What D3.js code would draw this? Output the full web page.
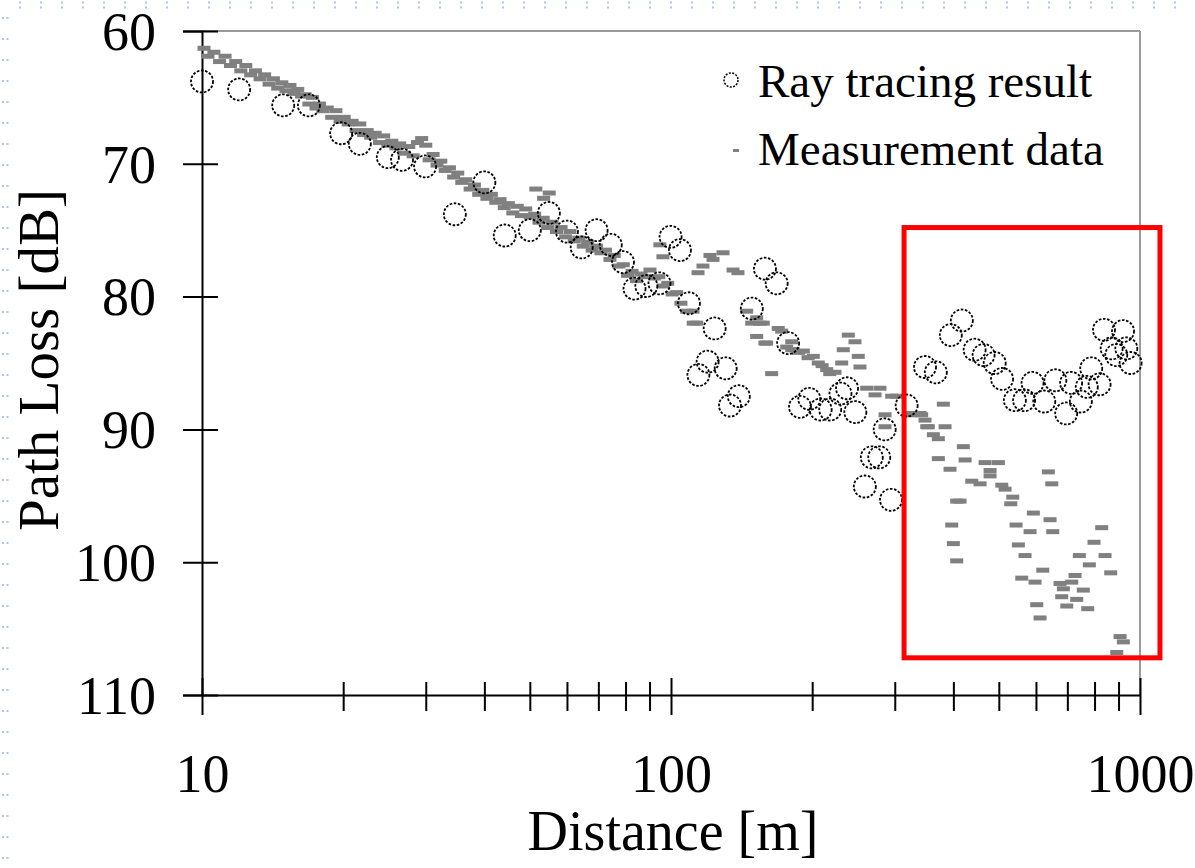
<!DOCTYPE html>
<html>
<head>
<meta charset="utf-8">
<script src="https://cdn.jsdelivr.net/npm/d3@7"></script>
<style>
  body { margin: 0; background: #fff; }
  text { font-family: "Liberation Serif", "Times New Roman", serif; fill: #000; }
</style>
</head>
<body>
<svg id="chart" width="1195" height="868"></svg>
<script>

// DATA

// Ray tracing result: [distance m, path loss dB]
var rayTracing = [
  [10.0,63.8],[12.0,64.4],[14.9,65.6],[16.9,65.6],[19.8,67.7],[21.7,68.5],[24.9,69.5],[26.7,69.7],[29.9,70.2],
  [34.6,73.8],[40.0,71.4],[44.2,75.4],[50.0,75.0],[54.9,73.7],[60.0,75.1],[64.5,76.3],[69.4,75.0],[74.4,76.1],
  [79.0,77.4],[83.6,79.4],[88.6,79.2],[94.5,79.0],[99.8,75.5],[104.5,76.5],[109.2,80.5],[114.4,85.9],[119.7,84.9],
  [123.9,82.4],[130.8,85.4],[133.6,88.2],[139.5,87.5],[148.7,80.9],[158.6,77.9],[168.0,79.0],[177.7,83.5],
  [188.4,88.3],[197.2,87.7],[208.5,88.5],[218.5,88.5],[229.8,87.3],[237.3,86.9],[247.2,88.7],[259.0,94.3],
  [268.0,92.1],[278.0,92.1],[285.5,90.0],[294.5,95.3],[318.0,88.2],[348.0,85.3],[367.0,85.7],[395.0,82.9],
  [417.0,81.8],[444.0,84.0],[464.0,84.4],[490.0,85.0],[508.0,86.2],[541.0,87.8],[566.0,87.8],[590.0,86.5],
  [625.0,87.9],[660.0,86.3],[696.0,88.8],[713.0,86.5],[748.0,87.9],[770.0,86.8],[787.0,85.4],[820.0,86.6],
  [838.0,82.5],[870.0,83.9],[890.0,84.4],[920.0,82.6],[935.0,83.9],[955.0,85.0]
];

// Measurement data: [distance m, path loss dB]
var measurement = [
  [10.1,61.3],[10.3,61.9],[10.6,61.6],[10.9,62.3],[11.2,61.9],[11.5,62.6],[11.8,62.3],[12.1,63.0],[12.4,62.6],[12.7,63.3],
  [13.0,63.0],[13.3,63.6],[13.6,63.3],[13.9,64.0],[14.2,63.6],[14.5,64.3],[14.8,63.9],[15.1,64.5],[15.4,64.1],[15.7,64.7],
  [16.0,64.4],[16.3,64.9],[16.6,64.8],[16.9,65.5],[17.2,65.0],[17.5,65.8],[17.8,65.5],[18.1,66.0],[18.5,65.8],[18.9,66.5],
  [19.3,66.0],[19.7,66.8],[20.1,66.5],[20.5,67.0],[20.9,66.8],[21.3,67.5],[21.7,67.0],[22.1,67.8],[22.5,67.5],[22.9,68.0],
  [23.4,67.7],[23.9,68.4],[24.4,67.9],[24.9,68.6],[25.4,68.3],[25.9,68.8],[26.4,68.5],[27.0,69.2],[27.6,68.7],[28.2,69.4],
  [28.8,68.4],[29.4,68.1],[30.0,68.6],[30.5,69.7],[31.1,69.3],[31.7,70.1],[32.3,69.8],[33.0,70.5],[33.7,70.3],[34.4,71.0],
  [35.1,70.7],[35.8,71.4],[36.5,71.2],[37.3,71.9],[38.1,71.6],[38.9,72.3],[39.7,72.0],[40.5,72.6],[41.4,72.3],[42.3,72.9],
  [43.2,72.7],[44.1,73.3],[45.0,73.0],[46.0,73.7],[47.0,73.2],[48.0,73.9],[49.0,73.4],[50.1,74.0],[51.2,73.8],[52.3,74.4],
  [53.4,74.1],[54.6,74.8],[55.8,74.4],[57.0,75.1],[58.3,74.8],[59.6,75.5],[60.9,75.1],[62.2,75.8],[63.6,75.6],[65.0,76.2],
  [66.4,75.9],[67.9,76.5],[69.4,76.2],[70.9,76.7],[72.5,76.5],[74.1,77.2],[75.7,76.9],[77.4,77.7],[79.1,77.6],[80.8,78.4],
  [82.6,78.1],[84.4,78.8],[86.3,78.3],[88.2,78.5],[90.2,78.0],[92.2,78.6],[94.2,78.5],[96.3,79.2],[98.4,79.0],[100.6,79.8],
  [102.8,79.7],[105.0,80.5],
  [51.5,71.9],[55.0,72.2],[53.5,72.6],
  [94.7,76.1],[96.1,77.0],[114.2,78.2],[117.0,77.7],[121.1,76.9],[122.9,77.2],[129.1,76.7],[135.6,78.0],[138.9,78.2],
  [108.0,81.1],[111.4,81.1],[111.5,82.0],[113.5,82.0],
  [145.0,81.1],[148.6,82.0],[152.3,81.6],[154.8,82.0],[152.3,83.0],[157.3,82.0],[158.6,83.5],[159.9,83.5],[163.9,85.8],
  [169.3,82.4],[172.2,82.6],[176.5,83.8],[180.9,83.4],[180.9,84.0],[182.3,84.0],[187.0,84.2],[191.5,84.1],[196.0,84.6],
  [201.1,84.5],[206.1,85.0],[210.0,85.2],[214.8,85.5],[218.0,85.8],[223.7,85.7],[231.2,85.0],[233.0,84.0],[238.8,82.9],
  [246.8,83.4],[250.8,84.5],[252.9,85.3],[261.4,86.9],[272.3,87.4],[279.0,86.9],[286.0,88.9],[286.0,89.8],[295.5,87.5],
  [302.8,87.5],
  [323.3,88.8],[326.0,88.9],[339.6,88.8],[342.4,88.9],[348.0,89.3],[351.0,89.8],[353.7,89.8],[362.6,90.4],[371.6,90.7],
  [380.8,88.1],[384.0,89.8],[371.6,92.2],[393.5,93.0],[396.8,97.2],[400.0,98.6],[406.6,99.9],[406.6,95.4],[413.4,95.4],
  [420.1,91.3],[423.7,92.3],[437.8,93.9],[456.0,94.1],[467.4,92.5],[479.0,93.1],[479.0,93.5],[498.9,92.5],[507.3,94.2],
  [515.6,94.5],[530.2,95.6],[535.4,95.1],[544.2,97.2],[550.4,98.7],[559.6,101.2],[568.7,99.5],[582.9,97.7],[592.4,96.3],
  [597.3,101.5],[602.3,103.2],[612.2,104.2],[620.3,100.6],[637.7,93.2],[643.0,96.8],[648.4,94.1],[651.5,97.7],[675.3,101.6],
  [680.9,102.6],[686.4,102.0],[697.9,103.3],[715.3,101.5],[727.0,101.0],[732.9,102.8],[742.4,99.5],[757.1,102.1],[773.6,103.5],
  [779.8,100.2],[797.9,98.5],[828.7,97.4],[842.3,99.5],[866.1,100.8],[892.0,106.8],[906.8,105.6],[921.6,106.0]
];

// Axes and labels
var yTicks = [60, 70, 80, 90, 100, 110];
var xMajor = [10, 100, 1000];
var xMinor = [20, 30, 40, 50, 60, 70, 80, 90, 200, 300, 400, 500, 600, 700, 800, 900];
var legendLabels = ["Ray tracing result", "Measurement data"];
var xTitle = "Distance [m]";
var yTitle = "Path Loss [dB]";

// Highlighted region (distance range, loss range)
var boxDist = [314, 1103];
var boxLoss = [74.8, 107.2];


// SCALES

var svg = d3.select("#chart");
var x = d3.scaleLog().domain([10, 1000]).range([202, 1140]);
var y = d3.scaleLinear().domain([60, 110]).range([31, 695]);


// SLIDE BACKGROUND (dotted guide at top and left)

svg.append("rect").attr("width", 1195).attr("height", 868).attr("fill", "#fff");
[2.5, 7.5].forEach(function (yy) {
  svg.append("line").attr("x1", 19).attr("x2", 1195).attr("y1", yy).attr("y2", yy)
    .attr("stroke", "#aac6ee").attr("stroke-width", 2).attr("stroke-dasharray", "2 19");
});
[3, 7.5].forEach(function (xx) {
  svg.append("line").attr("x1", xx).attr("x2", xx).attr("y1", 17).attr("y2", 868)
    .attr("stroke", "#aac6ee").attr("stroke-width", 2).attr("stroke-dasharray", "2 19");
});


// FRAME

svg.append("line").attr("x1", x(10)).attr("x2", x(1000)).attr("y1", y(60)).attr("y2", y(60))
  .attr("stroke", "#9a9a9a").attr("stroke-width", 2);
svg.append("line").attr("x1", x(1000)).attr("x2", x(1000)).attr("y1", y(60)).attr("y2", y(110))
  .attr("stroke", "#9a9a9a").attr("stroke-width", 2);


// AXES

var yAxis = d3.axisLeft(y).tickValues(yTicks).tickSizeOuter(0).tickSize(19);
var gy = svg.append("g").attr("transform", "translate(" + x(10) + ",0)").call(yAxis);
gy.select(".domain").attr("stroke", "#000").attr("stroke-width", 2);
gy.selectAll(".tick line").attr("x1", 16).attr("x2", -19).attr("stroke", "#000").attr("stroke-width", 2);
gy.selectAll(".tick text").attr("x", -46).attr("dy", "0.34em")
  .style("font-size", "54px").style("font-family", "'Liberation Serif', serif");

var xAxis = d3.axisBottom(x).tickValues(xMajor.concat(xMinor)).tickSizeOuter(0)
  .tickFormat(function (d) { return xMajor.indexOf(d) >= 0 ? d : ""; });
var gx = svg.append("g").attr("transform", "translate(0," + y(110) + ")").call(xAxis);
gx.select(".domain").attr("stroke", "#000").attr("stroke-width", 2);
gx.selectAll(".tick line")
  .attr("y1", function (d) { return xMajor.indexOf(d) >= 0 ? -17 : -13; })
  .attr("y2", function (d) { return xMajor.indexOf(d) >= 0 ? 20 : 16; })
  .attr("stroke", "#000").attr("stroke-width", 2);
gx.selectAll(".tick text").attr("y", 97).attr("dy", 0)
  .style("font-size", "54px").style("font-family", "'Liberation Serif', serif");

// Axis titles
svg.append("text").attr("x", 673).attr("y", 850).attr("text-anchor", "middle")
  .style("font-size", "56px").text(xTitle);
svg.append("text").attr("transform", "translate(58,360) rotate(-90)").attr("text-anchor", "middle")
  .style("font-size", "57px").text(yTitle);


// DATA MARKS

svg.append("g").selectAll("rect")
  .data(measurement).enter()
  .append("rect")
  .attr("x", function (d) { return x(d[0]) - 6.5; })
  .attr("y", function (d) { return y(d[1]) - 2.5; })
  .attr("width", 13)
  .attr("height", 5)
  .attr("fill", "#808080");

svg.append("g").selectAll("circle")
  .data(rayTracing).enter()
  .append("circle")
  .attr("cx", function (d) { return x(d[0]); })
  .attr("cy", function (d) { return y(d[1]); })
  .attr("r", 11)
  .attr("fill", "none")
  .attr("stroke", "#000")
  .attr("stroke-width", 1.8)
  .attr("stroke-dasharray", "2.6 1.6");


// HIGHLIGHT BOX

svg.append("rect")
  .attr("x", x(boxDist[0])).attr("y", y(boxLoss[0]))
  .attr("width", x(boxDist[1]) - x(boxDist[0]))
  .attr("height", y(boxLoss[1]) - y(boxLoss[0]))
  .attr("fill", "none").attr("stroke", "#ff0000").attr("stroke-width", 5);


// LEGEND

var legend = svg.append("g");
legend.append("circle").attr("cx", 731).attr("cy", 80).attr("r", 7)
  .attr("fill", "none").attr("stroke", "#000").attr("stroke-width", 1.5).attr("stroke-dasharray", "2 1.4");
legend.append("rect").attr("x", 733).attr("y", 149).attr("width", 6).attr("height", 3).attr("fill", "#808080");
legend.selectAll("text")
  .data(legendLabels).enter()
  .append("text")
  .attr("x", 758)
  .attr("y", function (d, i) { return 97 + i * 68; })
  .style("font-size", "47px")
  .text(function (d) { return d; });

</script>
</body>
</html>
